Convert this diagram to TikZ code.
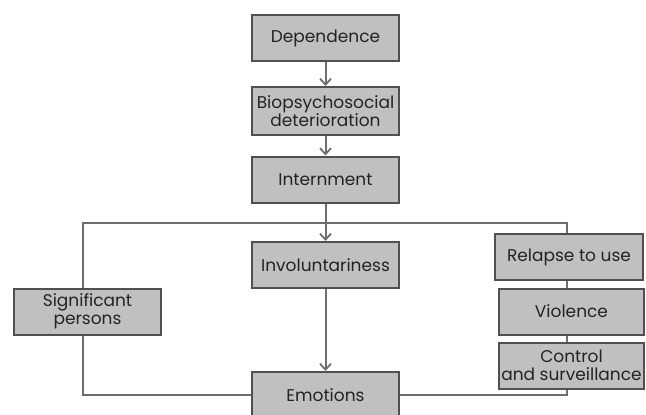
\documentclass[tikz,border=0pt]{standalone}
\usepackage{fontspec}
\setmainfont{Poppins}
\usetikzlibrary{arrows.meta}
\definecolor{boxgray}{RGB}{192,192,194}
\definecolor{framegray}{RGB}{80,80,82}
\definecolor{linegray}{RGB}{110,110,112}
\definecolor{textgray}{RGB}{35,35,35}
\tikzset{%
  flow box/.style={draw=framegray,fill=boxgray,line width=2pt,
    minimum width=147pt,minimum height=46pt,inner sep=0pt,
    align=center,text=textgray,font=\fontsize{17}{18}\selectfont},
  flow line/.style={draw=linegray,line width=2pt},
  flow arrow/.style={flow line,-{Straight Barb[length=6pt,width=11pt,line width=1.8pt]}},
}
\begin{document}
\begin{tikzpicture}[x=1pt,y=-1pt]
  \useasboundingbox (0,0) rectangle (646,415);
  % central column
  \node[flow box] (dep)  at (325.5,38)  {Dependence};
  \node[flow box,minimum height=48pt] (bio) at (325.5,111)
    {Biopsychosocial\\deterioration};
  \node[flow box] (int)  at (325.5,179.5) {Internment};
  \node[flow box] (inv)  at (325.5,265) {Involuntariness};
  \node[flow box] (emo)  at (325.5,395) {Emotions};
  % side boxes
  \node[flow box] (sig)  at (87.5,311.5) {Significant\\persons};
  \node[flow box,minimum width=148pt] (rel) at (569,257) {Relapse to use};
  \node[flow box,minimum width=145pt] (vio) at (571.5,311.5) {Violence};
  \node[flow box,minimum width=145pt] (con) at (571.5,365.5)
    {Control\\and surveillance};
  % corners of the frame
  \coordinate (tl) at (83,223);
  \coordinate (tr) at (567,223);
  \coordinate (bl) at (83,395);
  \coordinate (br) at (567,395);
  % connectors
  \draw[flow line] (sig.north -| tl) -- (tl) -- (tr) -- (rel.north -| tr);
  \draw[flow line] (sig.south -| bl) -- (bl) -- (emo.west);
  \draw[flow line] (rel.south -| tr) -- (vio.north -| tr);
  \draw[flow line] (vio.south -| tr) -- (con.north -| tr);
  \draw[flow line] (con.south -| br) -- (br) -- (emo.east);
  \draw[flow arrow] (dep) -- (bio);
  \draw[flow arrow] (bio) -- (int);
  \draw[flow arrow] (int) -- (inv);
  \draw[flow arrow] (inv) -- (emo);
\end{tikzpicture}
\end{document}
